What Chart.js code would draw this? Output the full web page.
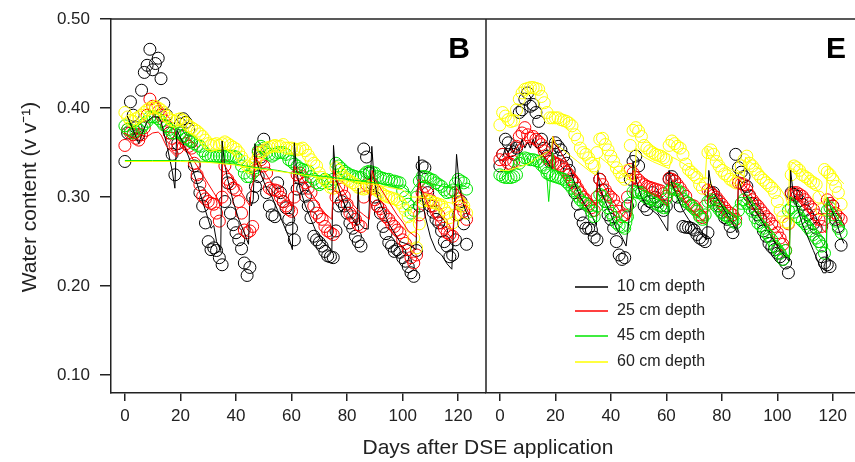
<!DOCTYPE html>
<html>
<head>
<meta charset="utf-8">
<script src="https://cdn.jsdelivr.net/npm/chart.js@4.4.1/dist/chart.umd.min.js"></script>
<style>
  body { margin:0; background:#fff; }
  #wrap { position:relative; width:855px; height:462px; overflow:hidden; }
  canvas { position:absolute; top:0; }
  #chartB { left:0; }
  #chartE { left:484px; }
  #xTitle { position:absolute; left:0; width:976px; top:436px; text-align:center;
            font:21px 'Liberation Sans', Arial, sans-serif; line-height:21px; color:#222; }
</style>
</head>
<body>
<div id="wrap">
  <canvas id="chartB" width="486" height="462"></canvas>
  <canvas id="chartE" width="371" height="462"></canvas>
  <div id="xTitle">Days after DSE application</div>
</div>
<script>
// observation days (one reading per day)
const obsDays = [0,1,2,3,4,5,6,7,8,9,10,11,12,13,14,15,16,17,18,19,20,21,22,23,24,25,26,27,28,29,
  30,31,32,33,34,35,36,37,38,39,40,41,42,43,44,45,46,47,48,49,50,51,52,53,54,55,56,57,58,59,
  60,61,62,63,64,65,66,67,68,69,70,71,72,73,74,75,76,77,78,79,80,81,82,83,84,85,86,87,88,89,
  90,91,92,93,94,95,96,97,98,99,100,101,102,103,104,105,106,107,108,109,110,111,112,113,114,115,116,117,118,119,
  120,121,122,123];

const depthLabels = ['10 cm depth', '25 cm depth', '45 cm depth', '60 cm depth'];
const depthColors = ['#000000', '#ff0000', '#00e600', '#ffff00'];
const yTicks = [0.1, 0.2, 0.3, 0.4, 0.5];
const xTicks = [0, 20, 40, 60, 80, 100, 120];

// ---- panel B, observed ----
const obsB10 = [.340,.372,.407,.392,.378,.370,.420,.440,.448,.466,.443,.450,.456,.433,.405,.392,.372,.348,.325,.360,
  .382,.388,.384,.376,.362,.335,.322,.305,.290,.271,.250,.241,.243,.240,.232,.224,.295,.316,.282,.269,
  .260,.252,.242,.226,.212,.221,.300,.312,.323,.345,.365,.305,.290,.280,.278,.316,.305,.295,.288,.275,
  .265,.252,.309,.321,.310,.301,.290,.277,.256,.252,.249,.245,.239,.234,.233,.232,.262,.290,.295,.290,
  .282,.271,.265,.256,.250,.245,.354,.345,.327,.315,.300,.290,.282,.267,.259,.249,.245,.239,.241,.238,
  .232,.228,.222,.215,.211,.240,.290,.335,.333,.305,.290,.283,.275,.271,.262,.250,.245,.233,.235,.252,
  .280,.295,.270,.247];
const obsB25 = [.358,.376,.372,.370,.366,.364,.370,.378,.392,.410,.402,.400,.396,.392,.386,.380,.372,.366,.359,.355,
  .372,.368,.360,.357,.355,.338,.325,.314,.301,.298,.295,.293,.292,.282,.273,.300,.335,.320,.315,.310,
  .308,.295,.282,.263,.260,.262,.267,.330,.350,.342,.335,.327,.310,.308,.308,.307,.300,.295,.290,.286,
  .284,.300,.325,.327,.323,.316,.310,.305,.290,.282,.278,.275,.267,.262,.260,.258,.300,.312,.309,.301,
  .292,.282,.278,.275,.269,.267,.300,.314,.312,.310,.297,.290,.287,.282,.278,.275,.270,.267,.263,.260,
  .252,.248,.241,.232,.226,.235,.280,.305,.312,.310,.297,.290,.284,.280,.271,.265,.260,.258,.256,.305,
  .298,.290,.284,.275];
const obsB45 = [.380,.376,.375,.372,.373,.375,.378,.382,.385,.390,.390,.390,.388,.385,.381,.379,.376,.372,.372,.374,
  .372,.369,.366,.364,.363,.360,.358,.357,.352,.348,.346,.346,.346,.346,.346,.346,.346,.346,.346,.346,
  .345,.342,.335,.327,.323,.323,.327,.333,.352,.357,.355,.350,.348,.346,.348,.350,.350,.350,.348,.342,
  .340,.337,.335,.332,.331,.330,.329,.323,.320,.316,.314,.316,.320,.318,.315,.320,.338,.335,.332,.329,
  .327,.325,.324,.323,.322,.322,.325,.328,.329,.328,.327,.323,.322,.321,.320,.320,.318,.318,.317,.316,
  .307,.300,.292,.282,.285,.300,.318,.323,.323,.322,.320,.319,.316,.314,.312,.308,.305,.306,.308,.315,
  .320,.318,.316,.309];
const obsB60 = [.395,.390,.386,.385,.388,.390,.392,.395,.398,.400,.400,.402,.400,.398,.395,.391,.388,.386,.385,.387,
  .388,.386,.383,.380,.378,.376,.374,.371,.368,.364,.360,.358,.359,.360,.358,.360,.362,.360,.358,.356,
  .354,.350,.345,.340,.335,.333,.336,.340,.346,.350,.352,.355,.356,.357,.358,.357,.357,.359,.355,.355,
  .355,.354,.353,.354,.355,.352,.347,.342,.338,.335,.327,.322,.319,.316,.311,.310,.333,.330,.326,.322,
  .320,.318,.316,.314,.311,.310,.309,.310,.312,.311,.309,.307,.305,.303,.301,.300,.299,.298,.297,.294,
  .290,.285,.278,.267,.254,.243,.270,.295,.297,.296,.295,.294,.293,.292,.291,.286,.282,.277,.271,.280,
  .295,.293,.290,.282];

// ---- panel B, simulated [day, value] ----
const simB10 = [[1,.390],[3,.375],[5,.360],[6,.370],[8,.385],[10,.390],[12,.390],[13,.385],[15,.360],[17,.330],
  [18,.310],[18.7,.375],[19.5,.370],[21,.360],[23,.345],[25,.325],[27,.305],[29,.285],[31,.265],[32,.268],
  [33,.250],[34.5,.240],[35,.363],[35.8,.340],[37,.320],[39,.295],[41,.275],[43,.260],[44.5,.247],[45,.300],
  [45.5,.290],[46.2,.297],[46.8,.360],[47.5,.340],[49,.325],[51,.310],[53,.300],[55,.285],[57,.270],[59,.255],
  [60.3,.241],[61,.361],[61.8,.330],[63,.310],[65,.290],[67,.275],[69,.260],[71,.250],[73,.245],[74.5,.240],
  [75.1,.358],[76,.320],[78,.300],[80,.285],[82,.275],[83.5,.268],[84,.310],[84.5,.270],[86,.265],[87.6,.264],
  [88.9,.357],[89.7,.320],[91,.300],[93,.285],[95,.270],[97,.260],[99,.250],[101,.248],[103,.245],[104.8,.241],
  [105.8,.346],[106.5,.310],[108,.280],[110,.255],[112,.240],[114,.235],[116,.225],[117.7,.219],[119.4,.348],
  [120.5,.310],[122,.290],[124,.275]];
const simB25 = [[0,.372],[2,.368],[4,.365],[6,.370],[8,.368],[10,.372],[12,.373],[13,.370],[15,.357],[17,.350],
  [18.6,.345],[19,.360],[20,.360],[22,.355],[24,.345],[26,.335],[28,.325],[30,.315],[32,.305],[34,.295],
  [34.8,.290],[35.2,.340],[36,.335],[38,.325],[40,.315],[42,.305],[44,.295],[45,.290],[45.5,.310],[46.5,.320],
  [47,.345],[48,.340],[50,.330],[52,.320],[54,.310],[56,.303],[58,.296],[60.5,.290],[61,.335],[62,.330],
  [64,.320],[66,.310],[68,.300],[70,.290],[72,.282],[74.5,.275],[75.2,.330],[76,.320],[78,.310],[80,.300],
  [82,.292],[84,.285],[86,.280],[88,.275],[89,.330],[90,.320],[92,.310],[94,.300],[96,.290],[98,.280],
  [100,.272],[102,.262],[104.8,.255],[105.8,.320],[106.5,.310],[108,.300],[110,.285],[112,.275],[114,.268],
  [116,.260],[117.8,.253],[119.4,.310],[120.5,.305],[122,.295],[124,.280]];
const simB45 = [[0,.341],[10,.341],[20,.341],[30,.340],[40,.337],[45,.334],[50,.332],[55,.330],[60,.327],[70,.324],
  [80,.320],[90,.316],[100,.312],[103,.305],[104,.310],[106,.318],[110,.315],[118,.310],[120,.315],[124,.310]];
const simB60 = [[0,.340],[10,.340],[20,.340],[30,.339],[40,.336],[45,.333],[50,.331],[60,.327],[70,.322],[80,.318],
  [90,.314],[100,.308],[103,.300],[106,.300],[110,.298],[118,.293],[120,.296],[124,.290]];

// ---- panel E, observed ----
const obsE10 = [.335,.348,.365,.361,.352,.348,.355,.395,.398,.410,.417,.402,.404,.395,.385,.365,.355,.346,.340,.355,
  .361,.357,.353,.346,.338,.330,.318,.305,.292,.280,.271,.265,.265,.263,.255,.252,.320,.308,.295,.280,
  .275,.265,.250,.235,.230,.232,.290,.320,.340,.346,.335,.305,.290,.286,.295,.305,.300,.295,.290,.285,
  .290,.320,.323,.318,.300,.290,.267,.266,.266,.265,.263,.258,.254,.252,.250,.260,.305,.305,.297,.290,
  .283,.277,.275,.267,.260,.348,.333,.328,.323,.312,.301,.293,.286,.280,.275,.262,.256,.248,.244,.241,
  .237,.233,.230,.226,.215,.305,.303,.301,.296,.292,.285,.280,.275,.270,.265,.250,.233,.226,.224,.222,
  .290,.275,.267,.246];
const obsE25 = [.342,.348,.342,.338,.337,.340,.357,.368,.372,.378,.370,.366,.368,.365,.362,.359,.352,.344,.342,.340,
  .338,.337,.335,.331,.328,.325,.320,.316,.310,.305,.300,.297,.292,.288,.285,.300,.320,.314,.308,.303,
  .300,.297,.290,.284,.278,.280,.300,.331,.327,.322,.319,.316,.314,.312,.311,.310,.309,.308,.307,.304,
  .301,.321,.320,.318,.314,.310,.305,.301,.293,.291,.290,.286,.280,.277,.290,.308,.305,.302,.300,.296,
  .292,.288,.284,.282,.280,.275,.316,.315,.314,.308,.302,.297,.293,.290,.286,.282,.278,.275,.270,.267,
  .260,.254,.247,.240,.270,.303,.305,.305,.303,.301,.297,.293,.289,.286,.280,.275,.267,.275,.297,.293,
  .290,.282,.278,.275];
const obsE45 = [.325,.323,.322,.322,.322,.323,.325,.338,.342,.344,.343,.342,.342,.341,.340,.336,.333,.327,.325,.324,
  .323,.322,.321,.320,.317,.314,.310,.307,.301,.297,.294,.293,.290,.284,.278,.290,.303,.301,.295,.288,
  .282,.277,.271,.268,.267,.265,.278,.293,.306,.306,.305,.305,.301,.299,.298,.297,.293,.291,.290,.288,
  .298,.306,.310,.309,.308,.305,.298,.295,.293,.290,.287,.284,.278,.275,.280,.295,.297,.294,.290,.286,
  .282,.280,.278,.276,.273,.271,.285,.293,.297,.293,.288,.284,.277,.271,.268,.265,.260,.256,.252,.245,
  .241,.237,.230,.240,.285,.288,.283,.278,.276,.273,.270,.266,.262,.258,.254,.250,.245,.237,.285,.288,
  .280,.273,.265,.260];
const obsE60 = [.381,.395,.391,.387,.385,.386,.398,.410,.417,.421,.422,.423,.423,.422,.421,.413,.406,.395,.389,.389,
  .389,.389,.387,.386,.385,.383,.380,.370,.365,.355,.350,.348,.344,.338,.335,.350,.365,.366,.359,.353,
  .346,.340,.333,.328,.323,.320,.330,.358,.375,.378,.374,.368,.358,.355,.352,.350,.348,.347,.346,.344,
  .342,.358,.363,.360,.357,.355,.348,.337,.331,.328,.325,.322,.314,.310,.315,.350,.353,.348,.340,.335,
  .330,.326,.324,.320,.318,.316,.320,.335,.342,.346,.338,.335,.331,.326,.322,.319,.316,.313,.310,.305,
  .295,.285,.278,.272,.271,.325,.335,.333,.330,.325,.323,.321,.318,.316,.314,.300,.286,.331,.328,.325,
  .320,.312,.305,.292];

// ---- panel E, simulated [day, value] ----
const simE10 = [[1,.345],[2,.355],[3,.350],[4,.358],[5,.350],[6,.360],[7,.352],[8,.365],[9,.355],[10,.362],
  [11,.355],[12,.365],[13,.356],[14,.355],[15,.350],[16,.345],[17,.340],[18,.335],[18.7,.332],[19,.368],
  [19.5,.360],[21,.355],[23,.345],[25,.335],[27,.315],[29,.300],[31,.290],[33,.280],[34.8,.268],[35.3,.330],
  [36,.310],[38,.295],[40,.280],[42,.265],[44,.255],[45.5,.245],[46,.260],[47.5,.300],[48,.340],[49,.320],
  [51,.300],[53,.290],[55,.285],[57,.280],[59,.270],[60.5,.262],[61,.330],[62,.315],[64,.300],[66,.285],
  [68,.275],[70,.268],[72,.260],[74.5,.252],[75.3,.330],[76,.315],[78,.300],[80,.290],[82,.280],[84,.270],
  [85.5,.260],[86,.320],[87,.310],[89,.300],[91,.290],[93,.280],[95,.270],[97,.260],[99,.250],[101,.240],
  [103,.233],[104.3,.228],[104.8,.330],[105.5,.310],[107,.290],[109,.270],[111,.255],[113,.240],[115,.225],
  [116.5,.215],[117.6,.215],[118,.300],[119,.290],[121,.275],[123,.255],[124,.248]];
const simE25 = [[0,.340],[2,.345],[4,.350],[6,.355],[7,.360],[8,.355],[10,.362],[12,.360],[14,.355],[16,.345],
  [18,.340],[18.8,.335],[19.2,.368],[20,.360],[22,.350],[24,.340],[26,.330],[28,.320],[30,.310],[32,.300],
  [34.8,.290],[35.3,.325],[36,.320],[38,.310],[40,.300],[42,.290],[44,.280],[46,.275],[47.5,.280],[48,.330],
  [49,.325],[51,.315],[54,.305],[57,.300],[60.5,.290],[61,.325],[62,.320],[64,.310],[66,.300],[68,.290],
  [70,.283],[72,.277],[74.5,.270],[75.3,.315],[76,.310],[78,.302],[80,.295],[82,.287],[84,.280],[85.5,.275],
  [86,.320],[87,.317],[89,.310],[91,.300],[93,.290],[95,.283],[97,.275],[99,.267],[101,.260],[103,.250],
  [104.4,.245],[104.8,.310],[106,.305],[108,.298],[110,.290],[112,.280],[114,.272],[116,.265],[117.5,.260],
  [118,.300],[119,.295],[121,.285],[123,.275],[124,.270]];
const simE45 = [[0,.320],[2,.325],[4,.330],[5,.338],[6,.335],[7,.345],[8,.350],[9,.340],[10,.345],[11,.340],
  [12,.338],[13,.345],[14,.335],[15,.330],[16,.325],[17,.320],[17.6,.295],[18,.310],[18.5,.340],[19,.350],
  [20,.330],[22,.325],[24,.315],[26,.305],[28,.298],[30,.290],[32,.282],[34.8,.272],[35.3,.305],[36,.300],
  [38,.290],[40,.280],[42,.272],[44,.265],[46,.260],[47.5,.270],[48,.310],[49,.305],[51,.300],[54,.295],
  [57,.290],[60.5,.280],[61,.310],[62,.310],[64,.302],[66,.295],[68,.288],[70,.282],[72,.275],[74.5,.268],
  [75.3,.300],[76,.298],[78,.290],[80,.285],[82,.278],[84,.272],[85.5,.268],[86,.295],[87,.297],[89,.290],
  [91,.282],[93,.275],[95,.268],[97,.260],[99,.252],[101,.245],[103,.238],[104.4,.232],[104.8,.300],[106,.298],
  [108,.290],[110,.280],[112,.270],[114,.260],[116,.250],[117.6,.240],[118,.300],[119,.290],[121,.280],
  [123,.270],[124,.265]];
const simE60 = [[0,.330],[3,.330],[6,.333],[10,.337],[14,.345],[17,.350],[18.7,.355],[19,.368],[20,.360],[22,.355],
  [24,.350],[26,.345],[28,.340],[30,.335],[32,.330],[34.5,.325],[35.3,.330],[36,.345],[38,.340],[40,.335],
  [42,.330],[44,.325],[46,.320],[48.5,.318],[49.2,.355],[50,.350],[52,.345],[55,.340],[58,.336],[61,.332],
  [62,.345],[64,.342],[66,.338],[68,.334],[70,.330],[72,.325],[74,.320],[74.7,.355],[75.5,.350],[77,.345],
  [80,.338],[83,.332],[86,.327],[88,.323],[88.6,.345],[90,.340],[93,.333],[96,.325],[99,.317],[101,.310],
  [103,.300],[104,.290],[104.5,.340],[106,.338],[108,.333],[110,.325],[112,.318],[114,.310],[116,.300],
  [117.5,.295],[118.2,.335],[119.5,.332],[121,.325],[123,.318],[124,.315]];

const FONT = "'Liberation Sans', Arial, sans-serif";
const INK = '#222';

function obsSet(vals, i) {
  return {
    data: obsDays.map((d, k) => ({x: d, y: vals[k]})),
    showLine: false,
    pointStyle: 'circle',
    pointRadius: 6,
    pointBorderWidth: 1,
    pointBorderColor: depthColors[i],
    pointBackgroundColor: 'rgba(0,0,0,0)',
    order: 8 - i
  };
}
function simSet(pairs, i) {
  return {
    data: pairs.map(p => ({x: p[0], y: p[1]})),
    showLine: true,
    borderColor: depthColors[i],
    borderWidth: 1,
    pointRadius: 0,
    tension: 0,
    order: 4 - i
  };
}

// frame, panel letter, y title and (optionally) the legend
function panelDeco(letter, letterX, withLegend, drawLeft, yTitle) {
  return {
    id: 'deco' + letter,
    afterDraw(chart) {
      const ctx = chart.ctx, a = chart.chartArea;
      ctx.save();
      ctx.strokeStyle = INK;
      ctx.lineWidth = 1.5;
      ctx.beginPath();
      ctx.moveTo(a.left, a.top);
      ctx.lineTo(a.right, a.top);
      if (drawLeft) {
        ctx.moveTo(a.left, a.top);
        ctx.lineTo(a.left, a.bottom);
      }
      ctx.stroke();
      ctx.fillStyle = '#000';
      ctx.font = 'bold 30px ' + FONT;
      ctx.textAlign = 'right';
      ctx.textBaseline = 'alphabetic';
      ctx.fillText(letter, letterX, 58);
      if (yTitle) {
        ctx.save();
        ctx.translate(30, 197);
        ctx.rotate(-Math.PI / 2);
        ctx.font = '21px ' + FONT;
        ctx.fillStyle = INK;
        ctx.textAlign = 'center';
        ctx.textBaseline = 'middle';
        ctx.fillText(yTitle, 0, 0);
        ctx.restore();
      }
      if (withLegend) {
        ctx.font = '16px ' + FONT;
        ctx.textAlign = 'left';
        ctx.textBaseline = 'middle';
        const rows = [287, 311, 336, 362];
        depthLabels.forEach((lab, i) => {
          ctx.strokeStyle = depthColors[i];
          ctx.lineWidth = 1.5;
          ctx.beginPath();
          ctx.moveTo(91, rows[i]);
          ctx.lineTo(124, rows[i]);
          ctx.stroke();
          ctx.fillStyle = INK;
          ctx.fillText(lab, 133, rows[i]);
        });
      }
      ctx.restore();
    }
  };
}

function makeChart(id, obs, sims, xMax, opts) {
  const datasets = [];
  obs.forEach((v, i) => datasets.push(obsSet(v, i)));
  sims.forEach((s, i) => datasets.push(simSet(s, i)));
  return new Chart(document.getElementById(id), {
    type: 'scatter',
    data: { datasets: datasets },
    options: {
      responsive: false,
      animation: false,
      devicePixelRatio: 1,
      layout: { autoPadding: false, padding: { top: 19, right: 0, bottom: 0, left: opts.padLeft } },
      plugins: { legend: { display: false }, tooltip: { enabled: false } },
      scales: {
        x: {
          type: 'linear', min: -5, max: xMax,
          afterBuildTicks: s => { s.ticks = xTicks.map(v => ({value: v})); },
          afterFit: s => { s.height = 69; s.paddingLeft = 0; s.paddingRight = 0; },
          ticks: { color: INK, font: { family: FONT, size: 17 }, padding: 5, callback: v => String(v) },
          grid: { drawOnChartArea: false, drawTicks: true, tickLength: 8, color: INK, lineWidth: 1.5 },
          border: { display: true, color: INK, width: 1.5 }
        },
        y: {
          type: 'linear', min: 0.08, max: 0.5,
          display: opts.showY,
          afterBuildTicks: s => { s.ticks = yTicks.map(v => ({value: v})); },
          afterFit: s => { s.width = opts.showY ? 111 : 0; s.paddingTop = 0; s.paddingBottom = 0; },
          ticks: { color: INK, font: { family: FONT, size: 17 }, padding: 10, callback: v => v.toFixed(2) },
          grid: { drawOnChartArea: false, drawTicks: true, tickLength: 11, color: INK, lineWidth: 1.5 },
          border: { display: true, color: INK, width: 1.5 }
        }
      }
    },
    plugins: [opts.deco]
  });
}

makeChart('chartB', [obsB10, obsB25, obsB45, obsB60], [simB10, simB25, simB45, simB60], 130,
  { padLeft: 0, showY: true, deco: panelDeco('B', 470, false, false, 'Water content (v v\u207B\u00B9)') });
makeChart('chartE', [obsE10, obsE25, obsE45, obsE60], [simE10, simE25, simE45, simE60], 128,
  { padLeft: 2, showY: false, deco: panelDeco('E', 362, true, true, null) });
</script>
</body>
</html>
